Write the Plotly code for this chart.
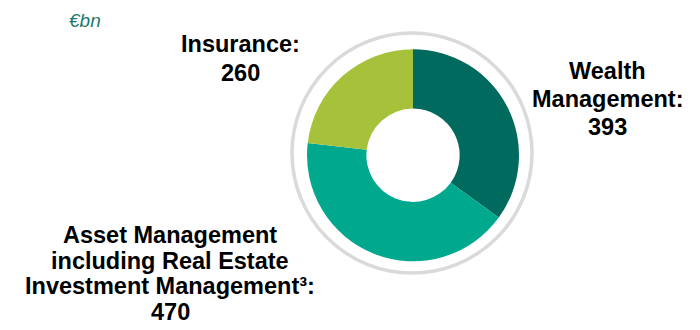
import plotly.graph_objects as go

# the page body has an 8px margin, so the figure sits at (8, 8) in the window
OFF = 8
W, H = 700 - OFF, 330 - OFF

segments = ['Wealth Management', 'Asset Management including Real Estate Investment Management', 'Insurance']
values = [393, 470, 260]
colors = ['#006a5e', '#00a88e', '#a6c23b']

# label lines for each segment (drawn line by line to keep the tight spacing)
wealth_lines = ['Wealth', 'Management:', '393']
asset_lines = ['Asset Management', 'including Real Estate', 'Investment Management³:', '470']
insurance_lines = ['Insurance:', '260']


def px_x(x):
  return (x - OFF) / W


def px_y(y):
  return 1 - (y - OFF) / H


fig = go.Figure(go.Pie(
  labels=segments, values=values, hole=0.44,
  marker=dict(colors=colors, line=dict(width=0)),
  sort=False, direction='clockwise', rotation=0,
  textinfo='none', hoverinfo='label+value',
  domain=dict(x=[px_x(307), px_x(519)], y=[px_y(261.5), px_y(49)]),
  showlegend=False,
))

# light grey ring around the donut
fig.add_shape(type='circle', xref='paper', yref='paper',
              x0=px_x(292), x1=px_x(532), y0=px_y(273), y1=px_y(33),
              line=dict(color='#dadada', width=3.5), layer='below')

label_font = dict(family='Liberation Sans, Arial, sans-serif', size=23.5, color='#000000')


def add_block(lines, cx, y_first, step):
  for i, line in enumerate(lines):
    fig.add_annotation(text=f'<b>{line}</b>', xref='paper', yref='paper',
                       x=px_x(cx), y=px_y(y_first + i * step),
                       xanchor='center', yanchor='middle', showarrow=False,
                       font=label_font)


add_block(wealth_lines, 607, 71.5, 27.5)
add_block(asset_lines, 170, 235, 25.5)
add_block(insurance_lines, 240, 43.5, 29.5)

fig.add_annotation(text='<i>€bn</i>', xref='paper', yref='paper',
                   x=px_x(67), y=px_y(20.5), xanchor='left', yanchor='middle',
                   showarrow=False,
                   font=dict(family='Liberation Sans, Arial, sans-serif', size=19, color='#1b7a6c'))

fig.update_layout(width=W, height=H, margin=dict(l=0, r=0, t=0, b=0),
                  paper_bgcolor='white', plot_bgcolor='white')

fig.write_html('out.html')
